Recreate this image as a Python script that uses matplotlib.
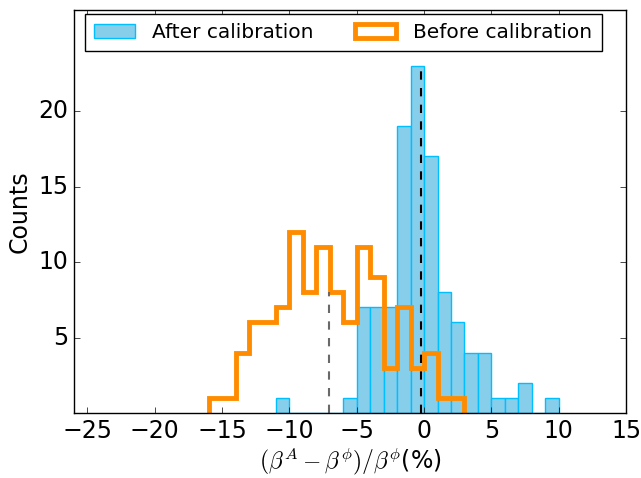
import numpy as np
import matplotlib
matplotlib.use("Agg")
import matplotlib.pyplot as plt

# bin edges are integers, width 1
after_left = np.arange(-11, 10)
after_counts = [1, 0, 0, 0, 0, 1, 7, 7, 7, 19, 23, 17, 8, 6, 4, 4, 1, 1, 2, 0, 1]

before_left = np.arange(-16, 3)
before_counts = [1, 1, 4, 6, 6, 7, 12, 8, 11, 8, 6, 11, 9, 3, 7, 3, 4, 1, 1]

# dashed markers (position, height)
mean_before = (-7.05, 8)
mean_after = (-0.25, 23)

plt.style.use("classic")
plt.rcParams["mathtext.fontset"] = "cm"
plt.rcParams["font.family"] = "DejaVu Sans"

fig = plt.figure(figsize=(6.41, 4.78), dpi=100, facecolor="white")
ax = fig.add_axes([0.1154, 0.136, 0.8612, 0.843])

after_edges = np.append(after_left, after_left[-1] + 1)
before_edges = np.append(before_left, before_left[-1] + 1)

ax.hist(after_left, bins=after_edges, weights=after_counts, color="skyblue",
        edgecolor="deepskyblue", linewidth=1, label="After calibration")
ax.hist(before_left, bins=before_edges, weights=before_counts, histtype="step",
        color="darkorange", linewidth=3.5, label="Before calibration")

ax.vlines(mean_before[0], 0, mean_before[1], colors="dimgray", linestyles="dashed", linewidth=1.5)
ax.vlines(mean_after[0], 0, mean_after[1], colors="black", linestyles="dashed", linewidth=1.5)

ax.set_xlim(-26, 15)
ax.set_ylim(0, 26.7)
ax.set_xticks(range(-25, 16, 5))
ax.set_yticks([5, 10, 15, 20])
ax.tick_params(labelsize=17)
ax.set_xlabel(r"$(\beta^A-\beta^{\phi})/\beta^{\phi}$(%)", fontsize=17, labelpad=2)
ax.set_ylabel("Counts", fontsize=17)

leg = ax.legend(loc="upper left", bbox_to_anchor=(0.0194, 0.99), ncol=2,
                fontsize=14.5, frameon=True, handlelength=2.05,
                handletextpad=0.85, columnspacing=2.05, borderpad=0.45,
                borderaxespad=0)

fig.savefig("out.png", dpi=100, facecolor="white")
